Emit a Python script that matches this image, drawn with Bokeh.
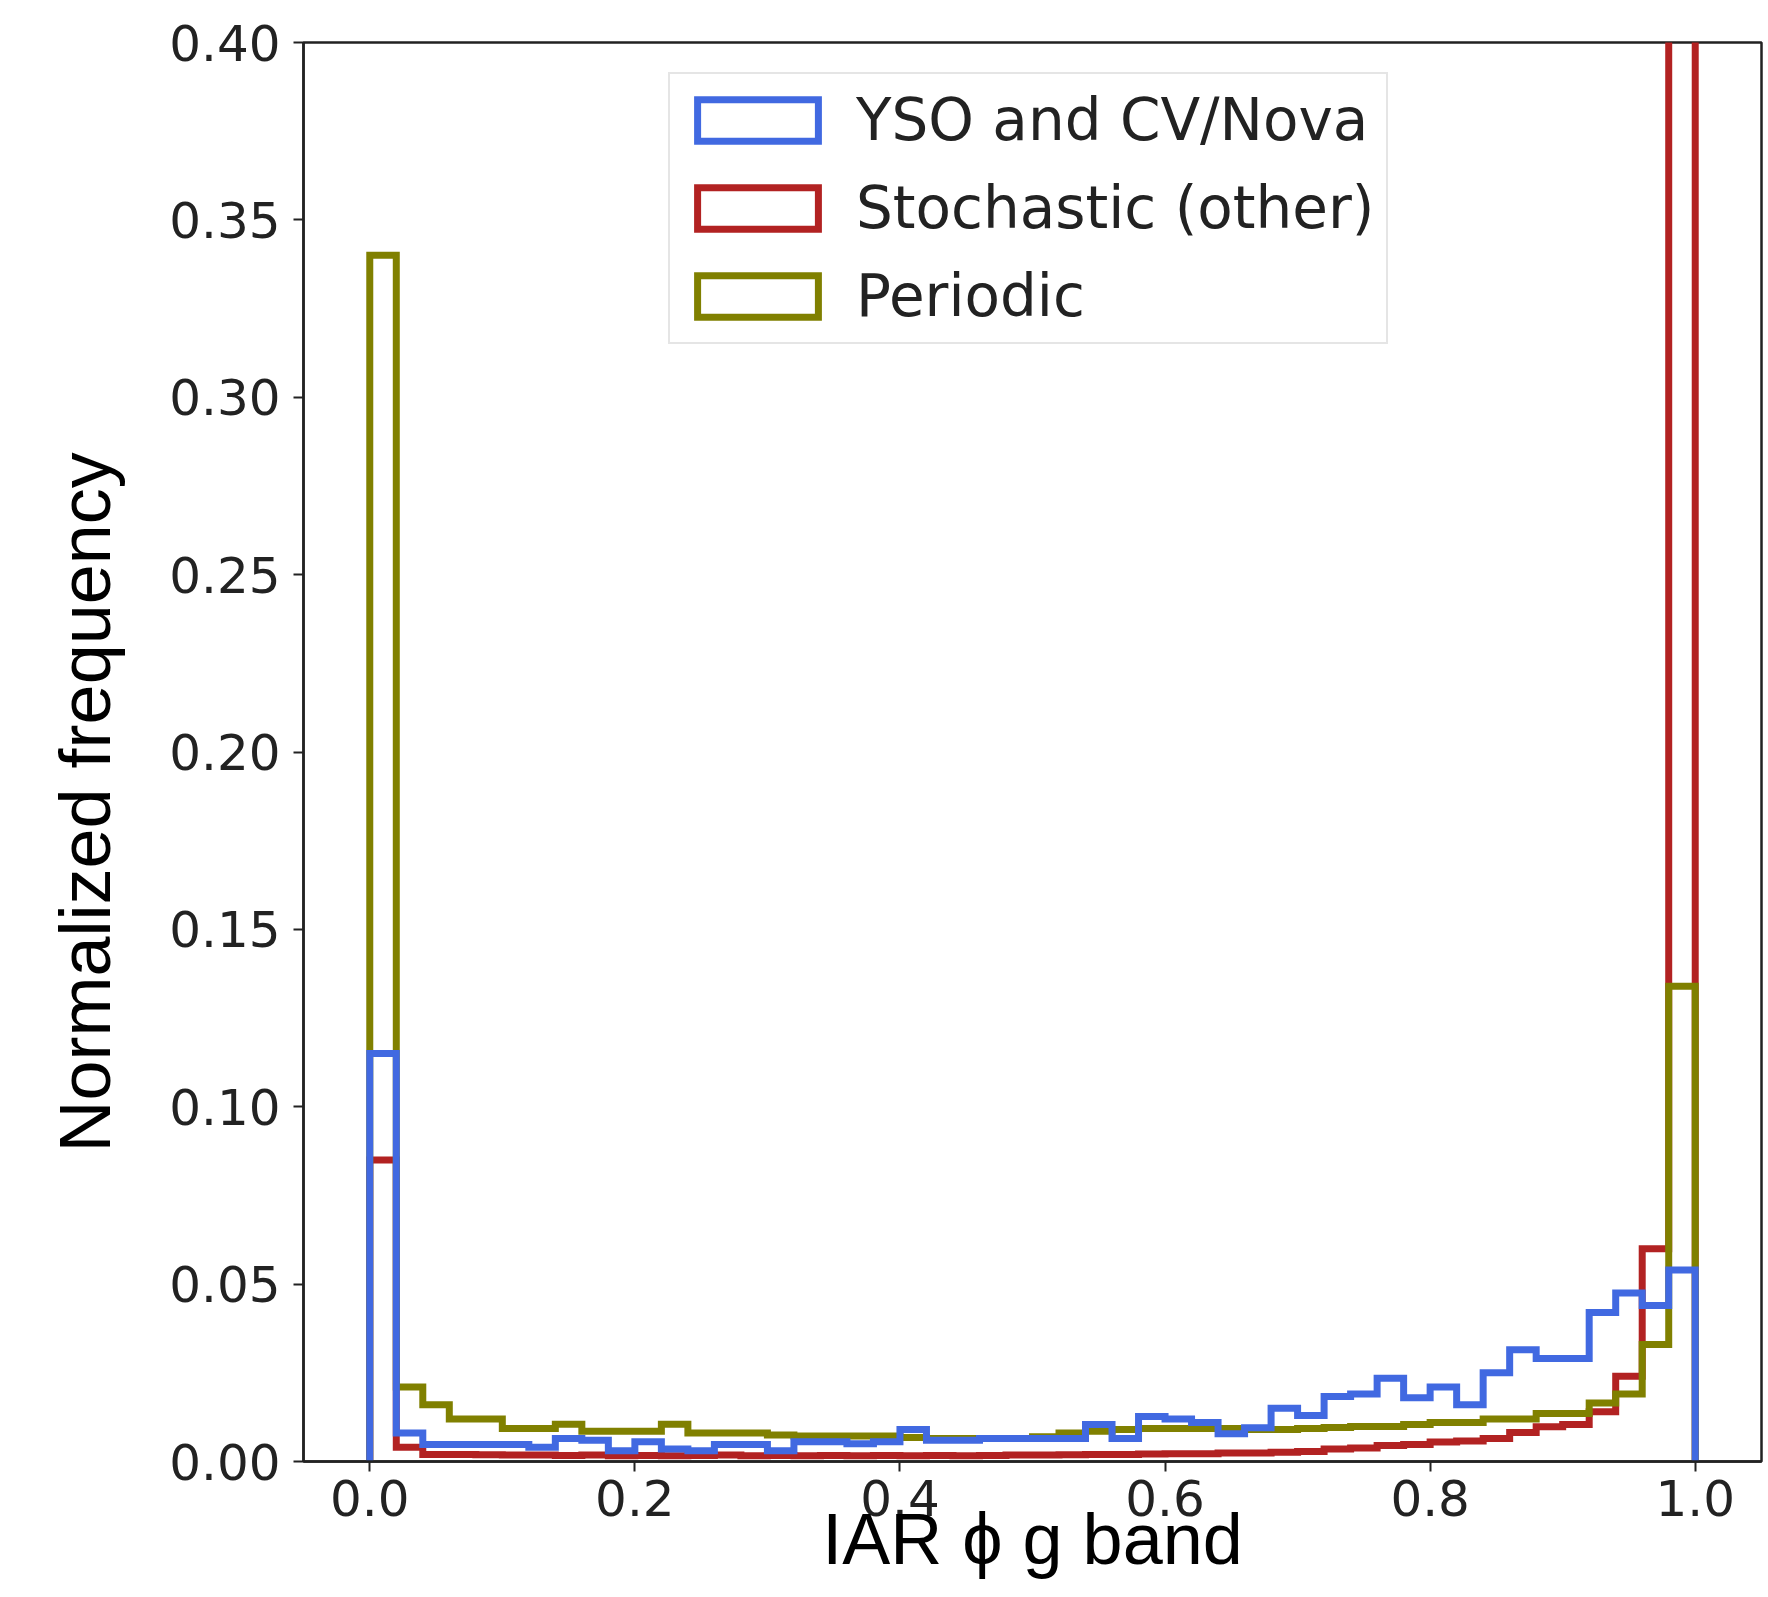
import numpy as np
from bokeh.plotting import figure
from bokeh.models import Range1d, FixedTicker, PrintfTickFormatter, Legend, LegendItem, Title
from bokeh.embed import file_html
from bokeh.resources import INLINE

# ---- data ----
bin_width = 0.02
n_bins = 50
x_ticks = [0.0, 0.2, 0.4, 0.6, 0.8, 1.0]
y_ticks = [0.0, 0.05, 0.10, 0.15, 0.20, 0.25, 0.30, 0.35, 0.40]

series_names = ["YSO and CV/Nova", "Stochastic (other)", "Periodic"]

yso = [0.115, 0.008, 0.0048, 0.0048, 0.0048, 0.0048, 0.004, 0.0065, 0.006, 0.003,
       0.0056, 0.0035, 0.003, 0.0048, 0.0048, 0.003, 0.0056, 0.0056, 0.005, 0.0056,
       0.009, 0.006, 0.006, 0.0065, 0.0065, 0.0065, 0.0065, 0.0104, 0.0065, 0.0127,
       0.012, 0.011, 0.0078, 0.0095, 0.015, 0.013, 0.0183, 0.019, 0.0235, 0.018,
       0.021, 0.016, 0.025, 0.0315, 0.029, 0.029, 0.042, 0.0475, 0.044, 0.054]

stochastic = [0.085, 0.004, 0.002, 0.002, 0.0019, 0.0018, 0.0018, 0.0017, 0.0018, 0.0016,
              0.0017, 0.0016, 0.0017, 0.0018, 0.0016, 0.0017, 0.0016, 0.0017, 0.0016, 0.0017,
              0.0016, 0.0017, 0.0016, 0.0017, 0.0018, 0.0018, 0.0019, 0.002, 0.002, 0.0021,
              0.0022, 0.0022, 0.0024, 0.0024, 0.0026, 0.0028, 0.0035, 0.0038, 0.0045, 0.0048,
              0.0055, 0.0058, 0.0065, 0.0082, 0.0098, 0.0104, 0.014, 0.024, 0.060, 0.62]

periodic = [0.34, 0.021, 0.016, 0.012, 0.012, 0.0093, 0.0093, 0.0105, 0.0085, 0.0085,
            0.0085, 0.0105, 0.008, 0.008, 0.008, 0.0075, 0.0072, 0.0072, 0.0072, 0.0072,
            0.0068, 0.0065, 0.0065, 0.0065, 0.0065, 0.007, 0.008, 0.0085, 0.009, 0.0093,
            0.0093, 0.0093, 0.0093, 0.009, 0.009, 0.0093, 0.0096, 0.0099, 0.0099, 0.0104,
            0.011, 0.011, 0.012, 0.012, 0.0135, 0.0135, 0.0165, 0.019, 0.033, 0.134]

x_label = "IAR ϕ g band"
y_label = "Normalized frequency"

colors = {"YSO and CV/Nova": "#4169E1", "Stochastic (other)": "#B22222", "Periodic": "#808000"}
values = {"YSO and CV/Nova": yso, "Stochastic (other)": stochastic, "Periodic": periodic}

edges = np.arange(n_bins + 1) * bin_width


def step_outline(vals):
    v = np.asarray(vals, dtype=float)
    xs = np.concatenate([[edges[0]], np.repeat(edges, 2)[1:-1], [edges[-1]]])
    ys = np.concatenate([[0.0], np.repeat(v, 2), [0.0]])
    return xs, ys


W, H = 1764, 1597
ML, MR, MT = 303, 3, 42
MB = H - 1461

p = figure(width=W, height=H, output_backend="svg", toolbar_location=None,
           x_range=Range1d(-0.05, 1.05), y_range=Range1d(0.0, 0.40),
           min_border_left=ML, min_border_right=MR, min_border_top=MT, min_border_bottom=MB)
p.background_fill_color = "white"
p.border_fill_color = "white"
p.xgrid.visible = False
p.ygrid.visible = False
p.outline_line_color = "#222222"
p.outline_line_width = 2.5

LW = 7
renderers = {}
for name in ["Stochastic (other)", "Periodic", "YSO and CV/Nova"]:
    xs, ys = step_outline(values[name])
    p.line(xs, ys, line_color=colors[name], line_width=LW, line_join="miter")
    # legend key only (a single non-drawable row, so the legend has something to sample)
    renderers[name] = p.quad(left=[np.nan], right=[np.nan], top=[np.nan], bottom=[np.nan],
                             fill_color=None, line_color=colors[name], line_width=LW,
                             line_join="miter")

legend = Legend(items=[LegendItem(label=n, renderers=[renderers[n]]) for n in series_names],
                location=(365, 1117))
legend.label_text_font = "DejaVu Sans"
legend.label_text_font_size = "58px"
legend.label_text_color = "#222222"
legend.glyph_width = 151
legend.glyph_height = 52
legend.label_standoff = 23
legend.padding = 12
legend.spacing = 20
legend.margin = 0
legend.border_line_color = "#cccccc"
legend.border_line_width = 2
legend.background_fill_color = "white"
legend.background_fill_alpha = 0.85
p.add_layout(legend)

for ax in (p.xaxis[0], p.yaxis[0]):
    ax.major_label_text_font = "DejaVu Sans"
    ax.major_label_text_font_size = "50px"
    ax.major_label_text_color = "#222222"
    ax.axis_line_color = "#222222"
    ax.axis_line_width = 2.5
    ax.major_tick_line_color = "#222222"
    ax.major_tick_line_width = 2
    ax.major_tick_out = 10
    ax.major_tick_in = 0
    ax.minor_tick_line_color = None

p.xaxis[0].ticker = FixedTicker(ticks=x_ticks)
p.xaxis[0].formatter = PrintfTickFormatter(format="%.1f")
p.xaxis[0].major_label_standoff = 8
p.xaxis[0].axis_label = x_label
p.xaxis[0].axis_label_text_font = "Liberation Sans"
p.xaxis[0].axis_label_text_font_size = "72px"
p.xaxis[0].axis_label_text_font_style = "normal"
p.xaxis[0].axis_label_text_color = "black"
p.xaxis[0].axis_label_standoff = -20

p.yaxis[0].ticker = FixedTicker(ticks=y_ticks)
p.yaxis[0].formatter = PrintfTickFormatter(format="%.2f")
p.yaxis[0].major_label_standoff = 13

# y-axis title as a side-panel title, starting 309 px above the frame's bottom edge
p.add_layout(Title(text=y_label, align="left", offset=309, standoff=84,
                   text_font="Liberation Sans", text_font_size="72px",
                   text_font_style="normal", text_color="black"), "left")

open("out.html", "w").write(file_html(p, INLINE))
